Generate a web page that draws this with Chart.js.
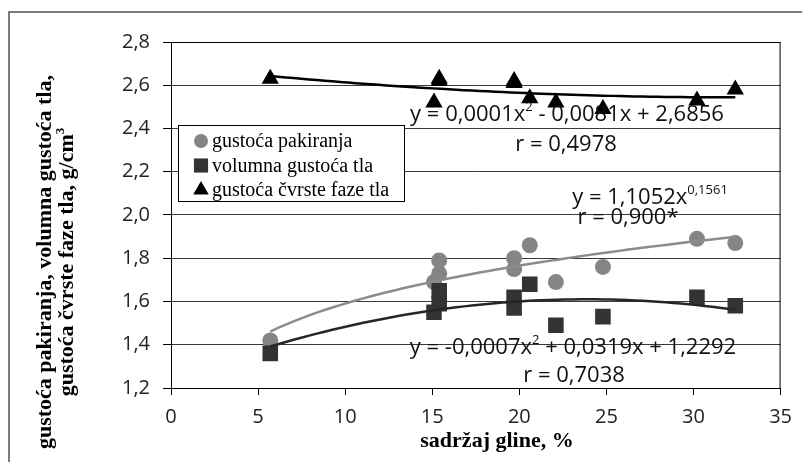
<!DOCTYPE html>
<html>
<head>
<meta charset="utf-8">
<script src="https://cdn.jsdelivr.net/npm/chart.js@4.4.1/dist/chart.umd.min.js"></script>
<style>
  body { margin: 0; background: #fff; }
  #wrap { width: 802px; height: 462px; }
</style>
</head>
<body>
<div id="wrap"><canvas id="chart" width="802" height="462"></canvas></div>
<script>
// sadržaj gline, % - same samples for all three series
const clay = [5.7, 15.4, 15.4, 15.1, 19.7, 19.7, 20.6, 22.1, 24.8, 30.2, 32.4];
const packing = [1.42, 1.79, 1.73, 1.69, 1.80, 1.75, 1.86, 1.69, 1.76, 1.89, 1.87];
const bulk = [1.36, 1.65, 1.59, 1.55, 1.62, 1.57, 1.68, 1.49, 1.53, 1.62, 1.58];
const particle = [2.63, 2.63, 2.62, 2.52, 2.62, 2.61, 2.54, 2.52, 2.49, 2.53, 2.58];

const xTicks = [0, 5, 10, 15, 20, 25, 30, 35];
const yTicks = [1.2, 1.4, 1.6, 1.8, 2.0, 2.2, 2.4, 2.6, 2.8];

const seriesNames = ['gustoća pakiranja', 'volumna gustoća tla', 'gustoća čvrste faze tla'];
const xTitle = 'sadržaj gline, %';
const yTitle = ['gustoća pakiranja, volumna gustoća tla,', 'gustoća čvrste faze tla, g/cm', '3'];

// equation labels: [text, superscript] pieces
const eqParticle = [['y = 0,0001x', 0], ['2', 1], [' - 0,0081x + 2,6856', 0]];
const rParticle = 'r = 0,4978';
const eqPacking = [['y = 1,1052x', 0], ['0,1561', 1]];
const rPacking = 'r = 0,900*';
const eqBulk = [['y = -0,0007x', 0], ['2', 1], [' + 0,0319x + 1,2292', 0]];
const rBulk = 'r = 0,7038';

function pts(xs, ys) {
  return xs.map((x, i) => ({ x: x, y: ys[i] }));
}

// least squares, y = a x^2 + b x + c
function polyFit2(xs, ys) {
  const s = [0, 0, 0, 0, 0], t = [0, 0, 0];
  for (let i = 0; i < xs.length; i++) {
    let p = 1;
    for (let k = 0; k < 5; k++) {
      s[k] += p;
      if (k < 3) t[k] += p * ys[i];
      p *= xs[i];
    }
  }
  const m = [[s[4], s[3], s[2], t[2]], [s[3], s[2], s[1], t[1]], [s[2], s[1], s[0], t[0]]];
  for (let i = 0; i < 3; i++) {
    for (let j = i + 1; j < 3; j++) {
      const f = m[j][i] / m[i][i];
      for (let k = i; k < 4; k++) m[j][k] -= f * m[i][k];
    }
  }
  const r = [0, 0, 0];
  for (let i = 2; i >= 0; i--) {
    let v = m[i][3];
    for (let k = i + 1; k < 3; k++) v -= m[i][k] * r[k];
    r[i] = v / m[i][i];
  }
  return x => r[0] * x * x + r[1] * x + r[2];
}

// least squares on logs, y = a x^b
function powerFit(xs, ys) {
  const lx = xs.map(Math.log), ly = ys.map(Math.log);
  const n = xs.length;
  const mx = lx.reduce((a, b) => a + b, 0) / n;
  const my = ly.reduce((a, b) => a + b, 0) / n;
  let sxy = 0, sxx = 0;
  for (let i = 0; i < n; i++) {
    sxy += (lx[i] - mx) * (ly[i] - my);
    sxx += (lx[i] - mx) * (lx[i] - mx);
  }
  const b = sxy / sxx, a = Math.exp(my - b * mx);
  return x => a * Math.pow(x, b);
}

function trend(fn, xs) {
  const lo = Math.min(...xs), hi = Math.max(...xs);
  const out = [];
  for (let i = 0; i <= 60; i++) {
    const x = lo + (hi - lo) * i / 60;
    out.push({ x: x, y: fn(x) });
  }
  return out;
}

const numFont = 'Open Sans';
const serif = 'Liberation Serif';

function richText(ctx, pieces, x, y, size, align) {
  const supSize = Math.round(size * 0.6);
  let w = 0;
  pieces.forEach(p => {
    ctx.font = (p[1] ? supSize : size) + 'px "' + numFont + '"';
    w += ctx.measureText(p[0]).width;
  });
  let cx = align === 'center' ? x - w / 2 : x;
  ctx.textAlign = 'left';
  ctx.textBaseline = 'alphabetic';
  pieces.forEach(p => {
    ctx.font = (p[1] ? supSize : size) + 'px "' + numFont + '"';
    ctx.fillText(p[0], cx, p[1] ? y - size * 0.45 : y);
    cx += ctx.measureText(p[0]).width;
  });
}

const decor = {
  id: 'decor',
  beforeDraw(chart) {
    const ctx = chart.ctx;
    ctx.save();
    ctx.strokeStyle = '#7a7a7a';
    ctx.lineWidth = 2;
    ctx.beginPath();
    ctx.moveTo(9, 462);
    ctx.lineTo(9, 12);
    ctx.lineTo(802, 12);
    ctx.stroke();
    ctx.restore();
  },
  afterDraw(chart) {
    const ctx = chart.ctx;
    const a = chart.chartArea;
    ctx.save();
    ctx.strokeStyle = '#000';
    ctx.lineWidth = 1;
    ctx.strokeRect(a.left + 0.5, a.top + 0.5, a.right - a.left - 1, a.bottom - a.top);

    // equations
    ctx.fillStyle = '#111';
    richText(ctx, eqParticle, 567, 121, 22, 'center');
    richText(ctx, [[rParticle, 0]], 566, 151, 22, 'center');
    richText(ctx, eqPacking, 650, 204, 22, 'center');
    richText(ctx, [[rPacking, 0]], 628, 224, 22, 'center');
    richText(ctx, eqBulk, 573, 354, 22, 'center');
    richText(ctx, [[rBulk, 0]], 574, 382, 22, 'center');

    // legend box
    const lx = 178, ly = 125, lw = 226, lh = 76;
    ctx.fillStyle = '#fff';
    ctx.fillRect(lx, ly, lw, lh);
    ctx.strokeStyle = '#000';
    ctx.lineWidth = 1;
    ctx.strokeRect(lx + 0.5, ly + 0.5, lw, lh);
    const ds = chart.data.datasets.filter(d => d.legend);
    ds.forEach((d, i) => {
      const cy = ly + 16 + i * 24.5;
      ctx.fillStyle = d.backgroundColor;
      ctx.strokeStyle = d.backgroundColor;
      Chart.helpers.drawPoint(ctx, { pointStyle: d.pointStyle, radius: d.legendRadius, rotation: 0, borderWidth: 0 }, 201, cy);
      ctx.fillStyle = '#000';
      ctx.font = '20px "' + serif + '"';
      ctx.textAlign = 'left';
      ctx.textBaseline = 'middle';
      ctx.fillText(d.label, 212, cy + 1);
    });

    // axis titles
    ctx.fillStyle = '#000';
    ctx.font = 'bold 22px "' + serif + '"';
    ctx.textAlign = 'center';
    ctx.textBaseline = 'alphabetic';
    ctx.fillText(xTitle, 497, 447);

    ctx.translate(0, 262);
    ctx.rotate(-Math.PI / 2);
    ctx.fillText(yTitle[0], 0, 51);
    ctx.font = 'bold 22px "' + serif + '"';
    const w1 = ctx.measureText(yTitle[1]).width;
    ctx.font = 'bold 13px "' + serif + '"';
    const w2 = ctx.measureText(yTitle[2]).width;
    ctx.textAlign = 'left';
    ctx.font = 'bold 22px "' + serif + '"';
    ctx.fillText(yTitle[1], -(w1 + w2) / 2, 73);
    ctx.font = 'bold 13px "' + serif + '"';
    ctx.fillText(yTitle[2], -(w1 + w2) / 2 + w1, 64);
    ctx.restore();
  }
};

const fitParticle = polyFit2(clay, particle);
const fitPacking = powerFit(clay, packing);
const fitBulk = polyFit2(clay, bulk);

new Chart(document.getElementById('chart'), {
  type: 'scatter',
  data: {
    datasets: [
      {
        label: 'trend pakiranja',
        data: trend(fitPacking, clay),
        showLine: true,
        borderColor: '#8c8c8c',
        borderWidth: 2.5,
        pointRadius: 0,
        order: 0
      },
      {
        label: 'trend volumna',
        data: trend(fitBulk, clay),
        showLine: true,
        borderColor: '#262626',
        borderWidth: 2.5,
        pointRadius: 0,
        order: 0
      },
      {
        label: 'trend čvrsta faza',
        data: trend(fitParticle, clay),
        showLine: true,
        borderColor: '#000',
        borderWidth: 2.5,
        pointRadius: 0,
        order: 0
      },
      {
        label: seriesNames[0],
        data: pts(clay, packing),
        pointStyle: 'circle',
        pointRadius: 8,
        backgroundColor: '#858585',
        borderWidth: 0,
        legend: true,
        legendRadius: 7,
        order: 2
      },
      {
        label: seriesNames[1],
        data: pts(clay, bulk),
        pointStyle: 'rect',
        pointRadius: 11,
        backgroundColor: '#333333',
        borderWidth: 0,
        legend: true,
        legendRadius: 10,
        order: 1
      },
      {
        label: seriesNames[2],
        data: pts(clay, particle),
        pointStyle: 'triangle',
        pointRadius: 10,
        backgroundColor: '#000000',
        borderWidth: 0,
        legend: true,
        legendRadius: 9,
        order: 1
      }
    ]
  },
  options: {
    responsive: false,
    animation: false,
    devicePixelRatio: 1,
    layout: { padding: { top: 42, right: 14, left: 0, bottom: 0 } },
    plugins: {
      legend: { display: false },
      tooltip: { enabled: false }
    },
    scales: {
      x: {
        type: 'linear',
        min: 0,
        max: 35,
        afterBuildTicks: scale => { scale.ticks = xTicks.map(v => ({ value: v })); },
        afterFit: scale => { scale.height = 74; },
        grid: { drawOnChartArea: false, tickLength: 7, tickColor: '#000' },
        border: { color: '#000', width: 1 },
        ticks: {
          padding: 10,
          color: '#222',
          font: { family: numFont, size: 20 },
          callback: v => String(v)
        }
      },
      y: {
        min: 1.2,
        max: 2.8,
        afterBuildTicks: scale => { scale.ticks = yTicks.map(v => ({ value: v })); },
        afterFit: scale => { scale.width = 171; },
        grid: { color: '#3a3a3a', lineWidth: 1, tickLength: 8, tickColor: '#000' },
        border: { color: '#000', width: 1 },
        ticks: {
          padding: 13,
          color: '#222',
          font: { family: numFont, size: 20 },
          callback: v => v.toFixed(1).replace('.', ',')
        }
      }
    }
  },
  plugins: [decor]
});
</script>
</body>
</html>
